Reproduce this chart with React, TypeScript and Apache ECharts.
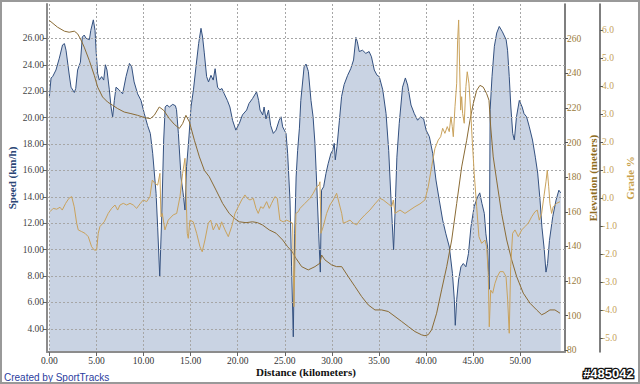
import React, { useEffect, useRef } from "react";
import * as echarts from "echarts";

const speedKm = [0, 0.18, 0.35, 0.7, 1.06, 1.4, 1.6, 1.77, 2.1, 2.3, 2.65, 2.8, 3.0, 3.3, 3.5, 3.7, 3.9, 4.25, 4.4, 4.67, 4.85, 4.96, 5.13, 5.3, 5.55, 5.77, 5.95, 6.12, 6.37, 6.55, 6.72, 6.9, 7.08, 7.4, 7.78, 8.14, 8.5, 8.74, 9.0, 9.37, 9.73, 10.08, 10.43, 10.72, 10.97, 11.33, 11.5, 11.72, 11.93, 12.14, 12.3, 12.5, 12.74, 13.1, 13.38, 13.5, 13.7, 13.98, 14.2, 14.4, 14.57, 14.8, 15.04, 15.3, 15.57, 15.85, 16.1, 16.27, 16.45, 16.7, 16.9, 17.16, 17.4, 17.6, 17.86, 18.1, 18.33, 18.57, 18.9, 19.17, 19.45, 19.8, 20.17, 20.5, 20.95, 21.2, 21.58, 22.0, 22.22, 22.37, 22.65, 22.8, 23.0, 23.27, 23.5, 23.78, 24.07, 24.4, 24.6, 24.77, 24.95, 25.13, 25.3, 25.55, 25.72, 25.9, 26.05, 26.2, 26.36, 26.55, 26.7, 27.05, 27.25, 27.5, 27.78, 28.0, 28.2, 28.4, 28.6, 28.77, 28.9, 29.12, 29.37, 29.6, 29.9, 30.07, 30.25, 30.36, 30.54, 30.8, 31.03, 31.3, 31.67, 32.0, 32.3, 32.55, 32.7, 32.9, 33.25, 33.6, 33.95, 34.2, 34.5, 34.8, 35.03, 35.4, 35.75, 36.03, 36.28, 36.55, 36.7, 36.9, 37.15, 37.5, 37.8, 38.04, 38.4, 38.75, 39.1, 39.4, 39.74, 40.0, 40.35, 40.7, 41.05, 41.4, 41.76, 42.1, 42.47, 42.8, 43.0, 43.1, 43.25, 43.45, 43.7, 43.95, 44.23, 44.5, 44.76, 45.1, 45.47, 45.7, 45.93, 46.18, 46.35, 46.53, 46.7, 46.8, 47.0, 47.25, 47.5, 47.77, 48.1, 48.5, 48.65, 48.83, 49.0, 49.2, 49.37, 49.6, 49.9, 50.2, 50.4, 50.67, 50.96, 51.3, 51.6, 51.85, 52.1, 52.3, 52.55, 52.73, 52.9, 53.1, 53.45, 53.8, 54.1, 54.3];
const speedKmh = [21.6, 23.0, 23.1, 23.6, 24.5, 25.5, 25.6, 25.1, 23.3, 22.3, 21.9, 22.2, 23.6, 24.2, 26.1, 26.25, 26.0, 25.9, 26.6, 27.4, 26.6, 25.1, 23.35, 22.84, 23.1, 22.84, 24.0, 23.6, 22.1, 20.8, 20.06, 21.3, 22.3, 22.1, 21.8, 23.1, 24.1, 23.85, 22.7, 21.8, 21.3, 20.3, 19.4, 18.8, 17.3, 14.26, 11.7, 7.94, 12.5, 18.3, 20.8, 20.95, 20.8, 21.0, 20.9, 20.6, 18.8, 15.5, 14.3, 13.0, 16.3, 18.3, 20.8, 22.1, 23.85, 25.6, 26.76, 26.1, 24.9, 23.1, 22.7, 23.2, 22.84, 23.7, 22.3, 22.1, 22.2, 21.8, 21.3, 20.8, 19.8, 19.05, 19.56, 20.2, 20.57, 21.07, 21.45, 21.95, 21.3, 20.57, 20.2, 20.8, 19.9, 20.57, 19.4, 18.8, 19.05, 19.8, 20.06, 19.3, 19.05, 18.8, 17.3, 13.75, 8.7, 3.4, 11.2, 15.5, 17.5, 19.2, 21.3, 23.85, 24.05, 23.5, 21.3, 20.06, 18.05, 14.76, 11.2, 8.3, 14.5, 14.76, 15.77, 16.5, 17.3, 17.5, 18.05, 16.8, 17.8, 19.8, 21.6, 22.5, 23.2, 23.7, 24.36, 26.07, 25.74, 25.0, 25.1, 24.86, 25.0, 24.6, 23.6, 23.2, 23.1, 22.1, 20.3, 17.5, 13.75, 10.0, 12.75, 17.0, 19.56, 22.3, 23.0, 22.46, 20.95, 20.3, 19.8, 20.06, 19.9, 19.05, 18.55, 17.3, 15.27, 13.75, 12.24, 11.2, 10.2, 8.2, 6.2, 4.27, 6.2, 7.7, 8.7, 8.95, 8.7, 9.7, 11.7, 13.25, 14.0, 14.3, 13.5, 12.75, 11.2, 10.2, 7.0, 20.6, 23.1, 25.4, 26.4, 26.9, 26.5, 25.9, 25.1, 23.1, 20.8, 18.8, 18.3, 20.06, 21.3, 20.8, 20.3, 20.06, 19.3, 18.3, 17.0, 15.8, 13.75, 11.7, 10.0, 8.3, 8.95, 10.7, 12.5, 13.75, 14.5, 14.3];

const elevKm = [0, 0.87, 1.6, 2.1, 2.65, 3.0, 3.3, 3.7, 4.24, 4.77, 5.13, 5.65, 6.18, 6.72, 7.25, 7.95, 8.66, 9.37, 10.08, 10.72, 11.14, 11.67, 12.14, 12.74, 13.27, 13.8, 14.15, 14.5, 14.87, 15.4, 15.93, 16.45, 16.98, 17.7, 18.4, 19.1, 19.64, 20.17, 20.88, 21.58, 22.1, 22.65, 23.35, 24.07, 24.77, 25.3, 25.77, 26.2, 26.79, 27.49, 28.2, 28.73, 28.91, 29.26, 29.97, 30.5, 31.04, 31.74, 32.45, 33.16, 33.86, 34.57, 35.28, 35.98, 36.7, 37.41, 38.11, 38.82, 39.53, 39.88, 40.23, 40.59, 41.12, 41.65, 42.19, 42.72, 43.25, 43.78, 44.31, 44.66, 45.01, 45.37, 45.72, 46.07, 46.43, 46.68, 46.86, 47.13, 47.49, 48.02, 48.56, 49.09, 49.62, 50.32, 51.03, 51.74, 52.27, 52.62, 53.15, 53.68, 54.22];
const elevM = [270.5, 266.6, 264.3, 263.7, 264.3, 262.8, 259.9, 255.1, 247.4, 238.8, 232.0, 226.3, 223.4, 221.5, 219.6, 217.6, 216.7, 215.7, 214.4, 213.8, 215.7, 220.5, 218.6, 213.8, 210.5, 208.1, 210.9, 215.7, 211.9, 201.3, 191.7, 184.0, 180.2, 172.5, 164.8, 159.0, 156.2, 154.2, 153.7, 154.2, 153.7, 152.3, 149.5, 147.6, 143.7, 139.8, 137.0, 133.0, 128.3, 126.4, 128.3, 130.3, 135.0, 132.2, 129.3, 128.3, 128.3, 122.5, 116.8, 111.0, 106.2, 103.3, 103.3, 102.4, 99.5, 96.6, 93.7, 90.8, 88.9, 88.4, 89.0, 91.8, 101.4, 114.9, 128.3, 143.7, 164.8, 185.9, 201.3, 212.9, 222.5, 230.1, 233.0, 232.0, 228.2, 224.4, 209.0, 191.7, 178.3, 159.0, 143.7, 132.2, 122.5, 113.0, 107.2, 103.3, 100.5, 101.4, 103.3, 103.3, 101.4];

const gradeKm = [0.06, 0.41, 0.78, 1.13, 1.37, 1.73, 2.08, 2.37, 2.64, 2.9, 3.07, 3.43, 3.78, 4.13, 4.49, 4.77, 5.02, 5.19, 5.37, 5.83, 6.25, 6.61, 6.97, 7.25, 7.5, 7.85, 8.21, 8.56, 8.91, 9.27, 9.62, 9.97, 10.33, 10.68, 10.93, 11.21, 11.5, 11.74, 11.85, 11.99, 12.27, 12.62, 13.16, 13.52, 13.87, 14.15, 14.4, 14.5, 14.64, 14.75, 14.93, 15.28, 15.64, 15.99, 16.23, 16.52, 16.87, 17.13, 17.4, 17.76, 18.04, 18.29, 18.65, 19.0, 19.36, 19.71, 20.06, 20.42, 20.77, 21.01, 21.3, 21.65, 21.94, 22.18, 22.44, 22.71, 23.07, 23.35, 23.6, 23.95, 24.2, 24.48, 24.83, 25.2, 25.55, 25.83, 25.97, 26.18, 26.43, 26.61, 27.14, 27.67, 28.02, 28.38, 28.63, 28.73, 28.84, 29.08, 29.44, 29.79, 30.14, 30.5, 30.68, 31.04, 31.21, 31.57, 31.92, 32.27, 32.63, 32.98, 33.51, 34.04, 34.57, 35.1, 35.45, 35.98, 36.35, 36.52, 36.7, 37.23, 37.76, 38.29, 38.82, 39.35, 39.88, 40.23, 40.59, 40.94, 41.29, 41.55, 41.76, 42.0, 42.25, 42.46, 42.64, 42.78, 42.89, 43.07, 43.25, 43.35, 43.46, 43.56, 43.67, 43.78, 43.88, 44.05, 44.23, 44.37, 44.55, 44.73, 44.9, 45.11, 45.37, 45.61, 45.9, 46.25, 46.43, 46.6, 46.71, 46.86, 47.07, 47.31, 47.56, 47.84, 48.2, 48.49, 48.66, 48.83, 48.98, 49.19, 49.44, 49.79, 50.15, 50.5, 50.85, 51.21, 51.56, 51.81, 52.02, 52.27, 52.51, 52.73, 52.87, 53.02, 53.15, 53.33, 53.5, 53.86, 54.22];
const gradePct = [-0.49, -0.37, -0.4, -0.33, -0.43, -0.19, -0.01, 0.05, -0.31, -0.9, -1.14, -1.2, -1.26, -1.38, -1.74, -1.86, -1.86, -1.26, -1.02, -0.85, -0.55, -0.37, -0.25, -0.43, -0.25, -0.19, -0.25, -0.19, -0.25, -0.37, -0.21, -0.07, -0.13, 0.05, 0.64, 0.52, 0.46, 0.88, -0.67, -0.55, -1.14, -0.79, -0.6, -0.55, 0.05, 0.88, 1.42, 0.4, -1.26, -1.44, -0.79, -0.85, -1.26, -1.74, -1.92, -1.5, -0.9, -0.79, -1.14, -0.9, -1.14, -0.85, -1.14, -1.38, -1.02, -0.55, -0.31, -0.07, 0.11, -0.01, -0.07, -0.01, -0.37, -0.55, -0.31, -0.37, -0.13, -0.37, -0.19, 0.05, -0.01, -0.79, -0.85, -0.79, -0.85, -0.9, -3.88, -0.55, -0.49, -0.37, -0.19, -0.01, 0.17, 0.4, 0.46, 0.58, -1.26, -1.02, -0.55, -0.25, -0.07, 0.17, -0.07, -0.55, -0.9, -0.85, -0.79, -0.9, -0.96, -0.79, -0.6, -0.43, -0.21, -0.01, -0.07, -0.21, -0.31, -0.07, -0.55, -0.43, -0.55, -0.43, -0.31, -0.21, -0.07, 0.4, 1.12, 1.77, 2.07, 2.19, 2.49, 2.31, 2.55, 2.37, 2.9, 2.55, 2.19, 3.26, 4.1, 5.64, 6.36, 4.69, 3.14, 3.62, 3.02, 2.67, 3.98, 4.51, 4.1, 3.14, 2.07, 0.88, -0.31, -1.38, -1.62, -1.5, -1.74, -2.69, -4.6, -3.29, -3.4, -3.05, -2.81, -2.63, -2.63, -2.81, -3.64, -4.83, -2.45, -1.26, -1.14, -1.38, -1.14, -1.02, -0.9, -0.67, -0.49, -0.43, -0.79, -0.55, 0.05, 0.58, 1.0, 0.4, -0.19, -0.55, -0.31, -0.19, -0.13];

const distanceTicks = [0, 5, 10, 15, 20, 25, 30, 35, 40, 45, 50];
const speedTicks = [4, 6, 8, 10, 12, 14, 16, 18, 20, 22, 24, 26];
const elevTicks = [80, 100, 120, 140, 160, 180, 200, 220, 240, 260];
const gradeTicks = [-5, -4, -3, -2, -1, 0, 1, 2, 3, 4, 5, 6];

const SERIF = "'Liberation Serif', 'DejaVu Serif', serif";
const SANS = "'Liberation Sans', Arial, sans-serif";

function pairs(xs: number[], ys: number[]) {
  return xs.map((x, i) => [x, ys[i]]);
}

export default function App() {
  const ref = useRef<HTMLDivElement>(null);
  useEffect(() => {
    if (!ref.current) return;
    const chart = echarts.init(ref.current, undefined, { renderer: "svg" });
    const grid = { type: [2, 2] as number[], color: "#a6a6a6", width: 1 };
    chart.setOption({
      animation: false,
      backgroundColor: "#ffffff",
      grid: { left: 47, top: 4, width: 518, height: 348, containLabel: false, outerBoundsMode: "none" },
      xAxis: {
        type: "value",
        min: -0.25,
        max: 54.75,
        z: 1.5,
        axisLine: { show: true, onZero: false, lineStyle: { color: "#8c8c8c", width: 2 } },
        axisTick: { show: true, customValues: distanceTicks, length: 4, lineStyle: { color: "#666" } },
        axisLabel: {
          customValues: distanceTicks,
          formatter: (v: number) => v.toFixed(2),
          fontFamily: SERIF,
          fontSize: 9.5,
          color: "#333",
          margin: 4,
        },
        splitLine: { show: true, lineStyle: grid },
        name: "Distance (kilometers)",
        nameLocation: "middle",
        nameGap: 14,
        nameMoveOverlap: false,
        nameTextStyle: { fontFamily: SERIF, fontWeight: "bold", fontSize: 11, color: "#111" },
      },
      yAxis: [
        {
          type: "value",
          position: "left",
          min: 2.25,
          max: 28.6,
          z: 1.5,
          axisLine: { show: true, onZero: false, lineStyle: { color: "#8c8c8c", width: 2 } },
          axisTick: { show: true, customValues: speedTicks, length: 4, lineStyle: { color: "#666" } },
          axisLabel: {
            customValues: speedTicks,
            formatter: (v: number) => v.toFixed(2),
            fontFamily: SERIF,
            fontSize: 9.5,
            color: "#444",
            margin: 3,
          },
          splitLine: { show: true, lineStyle: grid },
          name: "Speed (km/h)",
          nameLocation: "middle",
          nameRotate: 90,
          nameGap: 30,
          nameMoveOverlap: false,
          nameTextStyle: { fontFamily: SERIF, fontWeight: "bold", fontSize: 11, color: "#2b4676" },
        },
        {
          type: "value",
          position: "right",
          offset: 0,
          min: 79,
          max: 280,
          axisLine: { show: true, onZero: false, lineStyle: { color: "#555", width: 1.5 } },
          axisTick: { show: true, customValues: elevTicks, length: 3, lineStyle: { color: "#555" } },
          axisLabel: {
            customValues: elevTicks,
            formatter: (v: number) => String(Math.round(v)),
            fontFamily: SERIF,
            fontSize: 9.5,
            color: "#9a7a3a",
            margin: 2,
          },
          splitLine: { show: false },
          name: "Elevation (meters)",
          nameLocation: "middle",
          nameRotate: 90,
          nameGap: 22,
          nameMoveOverlap: false,
          nameTextStyle: { fontFamily: SERIF, fontWeight: "bold", fontSize: 11, color: "#8e6c22" },
        },
        {
          type: "value",
          position: "right",
          offset: 35,
          min: -5.5,
          max: 6.93,
          axisLine: { show: true, onZero: false, lineStyle: { color: "#555", width: 1.5 } },
          axisTick: { show: true, customValues: gradeTicks, length: 3, lineStyle: { color: "#555" } },
          axisLabel: {
            customValues: gradeTicks,
            formatter: (v: number) => v.toFixed(1),
            fontFamily: SERIF,
            fontSize: 9.5,
            color: "#c5a25a",
            margin: 2,
          },
          splitLine: { show: false },
          name: "Grade %",
          nameLocation: "middle",
          nameRotate: 90,
          nameGap: 24,
          nameMoveOverlap: false,
          nameTextStyle: { fontFamily: SERIF, fontWeight: "bold", fontSize: 11, color: "#c8a24e" },
        },
      ],
      series: [
        {
          name: "Speed",
          type: "line",
          yAxisIndex: 0,
          data: pairs(speedKm, speedKmh),
          showSymbol: false,
          z: 1,
          lineStyle: { color: "#33507f", width: 1 },
          areaStyle: { color: "#c9d3e3", opacity: 1 },
        },
        {
          name: "Elevation",
          type: "line",
          yAxisIndex: 1,
          data: pairs(elevKm, elevM),
          showSymbol: false,
          z: 3,
          lineStyle: { color: "#8a6b35", width: 1 },
        },
        {
          name: "Grade",
          type: "line",
          yAxisIndex: 2,
          data: pairs(gradeKm, gradePct),
          showSymbol: false,
          z: 3,
          lineStyle: { color: "#c9a25c", width: 1 },
        },
      ],
      graphic: [
        {
          type: "rect",
          shape: { x: 1, y: 1, width: 638, height: 382 },
          style: { fill: "none", stroke: "#999", lineWidth: 2 },
          silent: true,
          z: 10,
        },
        {
          type: "text",
          left: 4,
          top: 372,
          style: { text: "Created by SportTracks", fill: "#2b3c9e", font: `10px ${SANS}` },
        },
        {
          type: "text",
          right: 5,
          top: 366,
          style: {
            text: "#485042",
            fill: "#ffffff",
            stroke: "#111111",
            lineWidth: 2.5,
            font: `bold 13px ${SANS}`,
          },
        },
      ],
    });
    return () => chart.dispose();
  }, []);
  return (
    <div
      ref={ref}
      style={{ position: "absolute", left: 0, top: 0, width: 640, height: 384 }}
    />
  );
}
